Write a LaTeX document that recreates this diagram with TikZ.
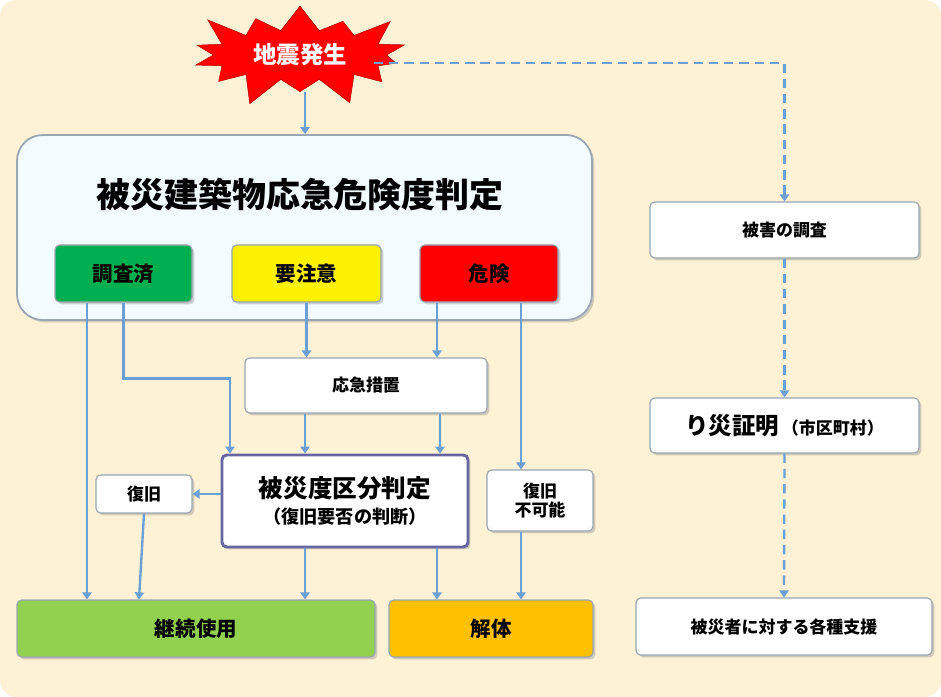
\documentclass[tikz,border=0pt]{standalone}
\usepackage{fontspec}
\newfontfamily\jp{Noto Sans CJK JP}
\usepackage{tikz}
\usetikzlibrary{arrows.meta,shapes.symbols,shadows}
\definecolor{bgcream}{HTML}{FDF1D6}
\definecolor{arrblue}{HTML}{6C9FD6}
\definecolor{boxline}{HTML}{9AA6B2}
\definecolor{okgreen}{HTML}{00B050}
\definecolor{usegreen}{HTML}{92D050}
\definecolor{demolish}{HTML}{FFC000}
\tikzset{
  box/.style={draw=boxline,line width=1pt,fill=white,rounded corners=4pt,
    drop shadow={opacity=0.35,shadow xshift=2pt,shadow yshift=-2pt},
    font=\jp\bfseries\fontsize{14.5}{17}\selectfont,align=center,inner sep=0pt},
  cbox/.style={box,font=\jp\bfseries\fontsize{17.5}{20}\selectfont},
  arr/.style={draw=arrblue,line width=2pt,-{Triangle[width=8pt,length=6pt]}},
  darr/.style={arr,dashed,dash pattern=on 8pt off 5pt}
}
\begin{document}
\begin{tikzpicture}
  \fill[bgcream,rounded corners=14pt] (0,0) rectangle (28.23,-20.91);
  \useasboundingbox (0,0) rectangle (28.23,-20.91);
  % earthquake
  \node[starburst,starburst points=14,starburst point height=1.0cm,fill=red,draw=red!70!black,
    minimum width=7.2cm,minimum height=3.5cm,font=\jp\bfseries\fontsize{20}{22}\selectfont,
    text=white] (star) at (9.0,-1.65) {地震発生};
  % judgement frame
  \node[box,fill=cyan!5,rounded corners=22pt,line width=1.5pt,
    minimum width=17.25cm,minimum height=5.55cm] (big) at (9.135,-6.825) {};
  \node[font=\jp\bfseries\fontsize{29}{32}\selectfont] (title) at (9.0,-5.85) {被災建築物応急危険度判定};
  \node[cbox,fill=okgreen,minimum width=4.11cm,minimum height=1.71cm] (chosa) at (3.705,-8.205) {調査済};
  \node[cbox,fill=yellow,minimum width=4.47cm,minimum height=1.71cm] (yochui) at (9.195,-8.205) {要注意};
  \node[cbox,fill=red,minimum width=4.14cm,minimum height=1.71cm] (kiken) at (14.67,-8.205) {危険};
  % measures
  \node[box,minimum width=7.26cm,minimum height=1.65cm] (ookyu) at (10.98,-11.565) {応急措置};
  \node[box,line width=2.5pt,draw=black!60!blue!60,minimum width=7.38cm,minimum height=2.76cm,
    font=\jp\bfseries\fontsize{21}{24}\selectfont] (hisai) at (10.35,-15.03)
    {被災度区分判定\\[-2pt]{\fontsize{15.5}{18}\selectfont（復旧要否の判断）}};
  \node[box,minimum width=2.88cm,minimum height=1.14cm] (fukkyu) at (4.32,-14.82) {復旧};
  \node[box,minimum width=3.18cm,minimum height=1.83cm] (fuka) at (16.2,-15.015) {復旧\\不可能};
  \node[cbox,fill=usegreen,minimum width=10.74cm,minimum height=1.71cm] (keizoku) at (5.88,-18.855) {継続使用};
  \node[cbox,fill=demolish,minimum width=6.12cm,minimum height=1.71cm] (kaitai) at (14.73,-18.855) {解体};
  % right column
  \node[box,minimum width=8.07cm,minimum height=1.68cm] (higai) at (23.535,-6.9) {被害の調査};
  \node[box,minimum width=8.07cm,minimum height=1.65cm] (risai) at (23.535,-12.765)
    {{\fontsize{20}{22}\selectfont り災証明}\,（市区町村）};
  \node[box,minimum width=8.88cm,minimum height=1.71cm] (shien) at (23.52,-18.795) {被災者に対する各種支援};
  % connectors
  \draw[arr] ([xshift=0.15cm]star.south) -- ([xshift=0.15cm]star.south |- big.north);
  \draw[arr] ([xshift=-1.095cm]chosa.south) -- ([xshift=-1.095cm]chosa.south |- keizoku.north);
  \draw[arr] (chosa.south) -- ++(0,-2.28) -| ([xshift=-3.45cm]hisai.north);
  \draw[arr] (yochui.south) -- (yochui.south |- ookyu.north);
  \draw[arr] ([xshift=-1.56cm]kiken.south) -- ([xshift=-1.56cm]kiken.south |- ookyu.north);
  \draw[arr] ([xshift=0.96cm]kiken.south) -- ([xshift=0.96cm]kiken.south |- fuka.north);
  \draw[arr] ([xshift=-1.83cm]ookyu.south) -- ([xshift=-1.83cm]ookyu.south |- hisai.north);
  \draw[arr] ([xshift=2.22cm]ookyu.south) -- ([xshift=2.22cm]ookyu.south |- hisai.north);
  \draw[arr] (hisai.west |- fukkyu.east) -- (fukkyu.east);
  \draw[arr] (fukkyu.south) -- ([xshift=-0.15cm]fukkyu.south |- keizoku.north);
  \draw[arr] ([xshift=-1.2cm]hisai.south) -- ([xshift=-1.2cm]hisai.south |- keizoku.north);
  \draw[arr] ([xshift=2.76cm]hisai.south) -- ([xshift=2.76cm]hisai.south |- kaitai.north);
  \draw[arr] ([xshift=-0.57cm]fuka.south) -- ([xshift=-0.57cm]fuka.south |- kaitai.north);
  \draw[darr] ([xshift=-0.4cm,yshift=-0.24cm]star.east) -| (higai.north);
  \draw[darr] (higai.south) -- (risai.north);
  \draw[darr] (risai.south) -- (shien.north);
\end{tikzpicture}
\end{document}
